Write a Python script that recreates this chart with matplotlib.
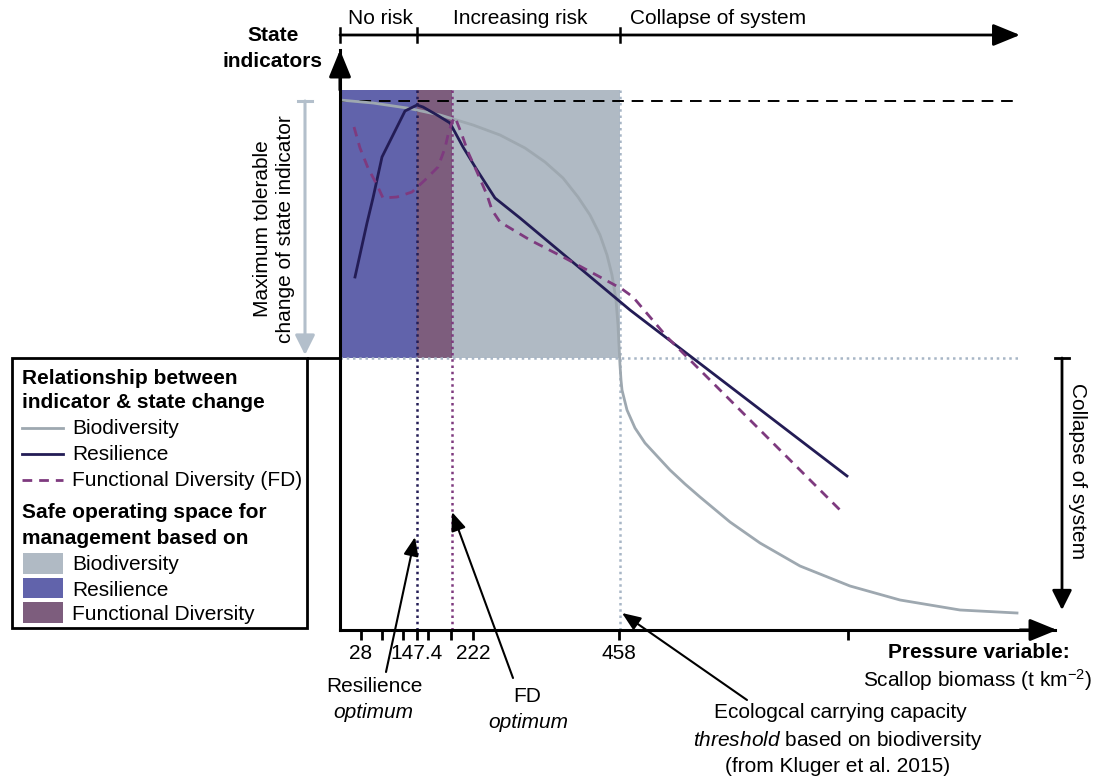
import numpy as np
import matplotlib.pyplot as plt
from matplotlib.patches import Rectangle

plt.rcParams['font.family'] = ['Liberation Sans', 'DejaVu Sans']
plt.rcParams['mathtext.fontset'] = 'custom'
plt.rcParams['mathtext.rm'] = 'Liberation Sans'
plt.rcParams['mathtext.it'] = 'Liberation Sans:italic'
plt.rcParams['mathtext.bf'] = 'Liberation Sans:bold'

# curves: position along the pressure axis vs state indicator level
bio_x = [0, 33, 67, 100, 133, 160, 185, 205, 223, 238, 250, 260, 267, 272, 276, 278,
         279, 280, 281, 282, 287, 295, 305, 317, 330, 345, 360, 390, 420, 460, 510,
         560, 620, 677]
bio_y = [530, 527, 522, 515, 505, 495, 482, 468, 452, 433, 415, 395, 375, 355, 330, 305,
         285, 265, 250, 240, 220, 202, 187, 174, 160, 146, 133, 108, 87, 64, 44,
         30, 20, 17]

res_x = [15, 27, 33, 42, 53, 65, 77, 83, 97, 110, 123, 137, 155, 180, 290, 507]
res_y = [353, 407, 432, 473, 495, 519, 525, 523, 515, 507, 483, 460, 432, 412, 320, 154]

fd_x = [14, 20, 28, 37, 43, 57, 72, 85, 98, 105, 108, 112, 115, 122, 128, 137, 147,
        152, 160, 190, 223, 260, 282, 293, 327, 353, 500]
fd_y = [503, 482, 462, 445, 432, 433, 438, 450, 463, 482, 495, 508, 513, 495, 478, 458,
        435, 420, 408, 390, 373, 353, 341, 333, 293, 267, 120]

# scallop biomass ticks (t km-2)
tick_x = [21, 42, 63, 77, 88, 111, 133, 279, 508]
tick_lab = ['28', '', '', '147.4', '', '', '222', '458', '']

# safe operating space limits
res_opt = 77      # resilience optimum
fd_opt = 112      # FD optimum
bio_thr = 280     # carrying capacity threshold
safe_top = 540
ref_level = 529
tol_floor = 272

c_bio = '#9ea8b0'
c_res = '#231c55'
c_fd = '#7e3a7f'
c_bio_fill = '#b0bac4'
c_res_fill = '#6163ab'
c_fd_fill = '#7d5d7d'
c_dot = '#a8b6c6'
fs = 15

W, H = 1099, 778
fig = plt.figure(figsize=(W / 100, H / 100), dpi=100)
ax = fig.add_axes([340 / W, 148 / H, 715 / W, 580 / H])
ax.set_xlim(0, 715)
ax.set_ylim(0, 580)
ax.patch.set_alpha(0)
for s in ['top', 'right']:
    ax.spines[s].set_visible(False)
ax.spines['left'].set_linewidth(2.2)
ax.spines['bottom'].set_linewidth(2.2)
ax.set_yticks([])
ax.set_xticks(tick_x, tick_lab, fontsize=fs)
ax.tick_params(axis='x', direction='out', length=7, width=2, pad=3)

# shaded safe operating spaces
h = safe_top - tol_floor
ax.add_patch(Rectangle((0, tol_floor), res_opt, h, color=c_res_fill, lw=0, zorder=0))
ax.add_patch(Rectangle((res_opt, tol_floor), fd_opt - res_opt, h, color=c_fd_fill, lw=0, zorder=0))
ax.add_patch(Rectangle((fd_opt, tol_floor), bio_thr - fd_opt, h, color=c_bio_fill, lw=0, zorder=0))

dot = (0, (1, 1.5))
ax.plot([0, 680], [ref_level] * 2, color='k', lw=1.4, dashes=(6, 4), zorder=1)
ax.plot([0, 680], [tol_floor] * 2, color=c_dot, lw=1.8, ls=dot, zorder=1)
ax.plot([res_opt] * 2, [0, safe_top], color=c_res, lw=1.8, ls=dot, zorder=1)
ax.plot([fd_opt] * 2, [0, safe_top], color=c_fd, lw=1.8, ls=dot, zorder=1)
ax.plot([bio_thr] * 2, [0, safe_top], color=c_dot, lw=1.8, ls=dot, zorder=1)

ax.plot(bio_x, bio_y, color=c_bio, lw=2, zorder=2)
ax.plot(res_x, res_y, color=c_res, lw=2, zorder=3)
ax.plot(fd_x, fd_y, color=c_fd, lw=2, dashes=(3.5, 2.5), zorder=3)

head = dict(mutation_scale=15, color='k', shrinkA=0, shrinkB=0)
# axis arrow heads
ax.annotate('', xy=(0, 580), xytext=(0, 540), annotation_clip=False,
            arrowprops=dict(arrowstyle='-|>,head_length=1.1,head_width=0.45', lw=2.2, **head))
ax.annotate('', xy=(717, 0), xytext=(680, 0), annotation_clip=False,
            arrowprops=dict(arrowstyle='-|>,head_length=1.1,head_width=0.45', lw=2.2, **head))

# risk bar on top
ax.annotate('', xy=(680, 595), xytext=(0, 595), annotation_clip=False,
            arrowprops=dict(arrowstyle='-|>,head_length=1.1,head_width=0.45', lw=2, **head))
for xt in [0, res_opt, bio_thr]:
    ax.plot([xt, xt], [588, 602], color='k', lw=1.8, clip_on=False)

# maximum tolerable change bracket
ax.plot([-42, -28], [ref_level] * 2, color='#b3bfcb', lw=2.2, clip_on=False)
ax.annotate('', xy=(-35, tol_floor + 3), xytext=(-35, ref_level), annotation_clip=False,
            arrowprops=dict(arrowstyle='-|>,head_length=0.8,head_width=0.4', lw=2.2,
                            mutation_scale=15, color='#b3bfcb', shrinkA=0, shrinkB=0))
ax.plot([-32, 0], [tol_floor] * 2, color='k', lw=2, clip_on=False)
ax.text(-66, 401, 'Maximum tolerable\nchange of state indicator', rotation=90,
        ha='center', va='center', fontsize=fs, linespacing=1.25)

# collapse bracket on the right
ax.plot([715, 729], [tol_floor] * 2, color='k', lw=2, clip_on=False)
ax.annotate('', xy=(722, 20), xytext=(722, tol_floor), annotation_clip=False,
            arrowprops=dict(arrowstyle='-|>,head_length=0.8,head_width=0.4', lw=2, **head))
ax.text(737, 159, 'Collapse of system', rotation=270, ha='center', va='center', fontsize=fs)

# overlay in pixel units for labels and key
ov = fig.add_axes([0, 0, 1, 1], zorder=-1)
ov.set_xlim(0, W)
ov.set_ylim(H, 0)
ov.axis('off')

ov.text(380, 18, 'No risk', ha='center', va='center', fontsize=fs)
ov.text(520, 18, 'Increasing risk', ha='center', va='center', fontsize=fs)
ov.text(630, 18, 'Collapse of system', ha='left', va='center', fontsize=fs)
ov.text(273, 35, 'State', ha='center', va='center', fontsize=fs, fontweight='bold')
ov.text(273, 61, 'indicators', ha='center', va='center', fontsize=fs, fontweight='bold')

ov.text(1070, 653, 'Pressure variable:', ha='right', va='center', fontsize=fs, fontweight='bold')
ov.text(1092, 680, r'Scallop biomass (t km$^{-2}$)', ha='right', va='center', fontsize=fs)

ann = dict(arrowstyle='-|>,head_length=0.75,head_width=0.3', lw=1.5, **head)
ax.annotate('', xy=(res_opt - 2, 93), xytext=(386, 672), textcoords=ov.transData,
            annotation_clip=False, arrowprops=ann)
ax.annotate('', xy=(fd_opt, 118), xytext=(513, 678), textcoords=ov.transData,
            annotation_clip=False, arrowprops=ann)
ax.annotate('', xy=(bio_thr + 2, 17), xytext=(747, 700), textcoords=ov.transData,
            annotation_clip=False, arrowprops=ann)

ov.text(374, 687, 'Resilience', ha='center', va='center', fontsize=fs)
ov.text(373, 712, 'optimum', ha='center', va='center', fontsize=fs, style='italic')
ov.text(527, 697, 'FD', ha='center', va='center', fontsize=fs)
ov.text(528, 722, 'optimum', ha='center', va='center', fontsize=fs, style='italic')
ov.text(840, 713, 'Ecologcal carrying capacity', ha='center', va='center', fontsize=fs)
ov.text(838, 740, r'$\it{threshold}$ based on biodiversity', ha='center', va='center', fontsize=fs)
ov.text(838, 767, '(from Kluger et al. 2015)', ha='center', va='center', fontsize=fs)

# key
ov.add_patch(Rectangle((12, 358), 295, 270, fill=False, lw=2, ec='k'))
ov.text(22, 378, 'Relationship between', va='center', fontsize=fs, fontweight='bold')
ov.text(22, 402, 'indicator & state change', va='center', fontsize=fs, fontweight='bold')
ov.plot([22, 63], [428, 428], color=c_bio, lw=2)
ov.text(72, 428, 'Biodiversity', va='center', fontsize=fs)
ov.plot([22, 63], [454, 454], color=c_res, lw=2)
ov.text(72, 454, 'Resilience', va='center', fontsize=fs)
ov.plot([22, 63], [480, 480], color=c_fd, lw=2, dashes=(3.5, 2.5))
ov.text(72, 480, 'Functional Diversity (FD)', va='center', fontsize=fs)
ov.text(22, 513, 'Safe operating space for', va='center', fontsize=fs, fontweight='bold')
ov.text(22, 538, 'management based on', va='center', fontsize=fs, fontweight='bold')
ov.add_patch(Rectangle((23, 553), 40, 21, color=c_bio_fill, lw=0))
ov.text(72, 565, 'Biodiversity', va='center', fontsize=fs)
ov.add_patch(Rectangle((23, 578), 40, 20, color=c_res_fill, lw=0))
ov.text(72, 590, 'Resilience', va='center', fontsize=fs)
ov.add_patch(Rectangle((23, 602), 40, 21, color=c_fd_fill, lw=0))
ov.text(72, 614, 'Functional Diversity', va='center', fontsize=fs)

fig.savefig('out.png', dpi=100)
